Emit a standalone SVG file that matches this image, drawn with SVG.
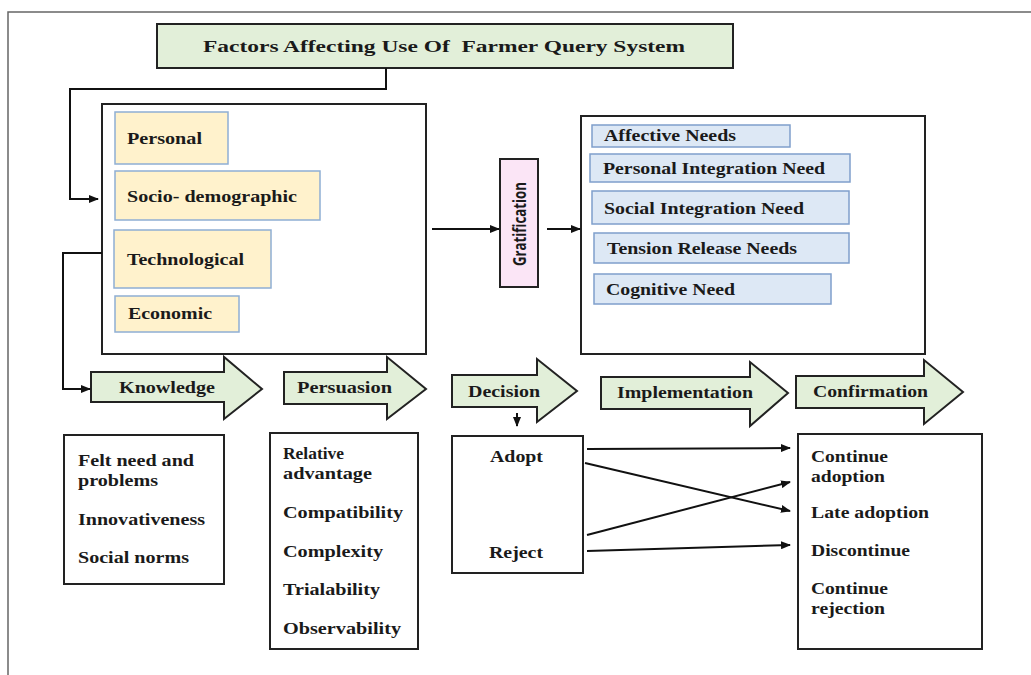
<svg xmlns="http://www.w3.org/2000/svg" width="1031" height="675" viewBox="0 0 1031 675">
<defs>
<marker id="ah" markerUnits="userSpaceOnUse" markerWidth="10" markerHeight="8" refX="9" refY="4" orient="auto">
<path d="M0,0 L10,4 L0,8 Z" fill="#111"/>
</marker>
<style>
.t{font-family:"Liberation Serif","Times New Roman",serif;font-weight:bold;font-size:16px;fill:#1a1a1a}
.tt{font-size:17px;white-space:pre}
.box{fill:#fff;stroke:#222;stroke-width:2}
.grn{fill:#e2efd9;stroke:#222;stroke-width:2}
.fac{fill:#fff2cc;stroke:#8faed4;stroke-width:1.5}
.need{fill:#dde8f5;stroke:#7f9fcb;stroke-width:1.5}
.con{fill:none;stroke:#111;stroke-width:2}
.g{font-family:"Open Sans","Liberation Sans",sans-serif;font-weight:bold;font-size:17px;fill:#1a1a1a}
</style>
</defs>
<rect width="1031" height="675" fill="#fff"/>
<path d="M8,675 V12 H1031" fill="none" stroke="#666" stroke-width="1.5"/>

<g id="title">
<rect class="grn" x="157" y="24" width="576" height="44"/>
<text class="t tt" x="203" y="52" textLength="482" lengthAdjust="spacingAndGlyphs">Factors Affecting Use Of  Farmer Query System</text>
</g>

<g id="factors">
<rect class="box" x="102" y="104" width="324" height="250"/>
<g id="personal"><rect class="fac" x="115" y="112" width="113" height="52"/><text class="t" x="127" y="143.5" textLength="75" lengthAdjust="spacingAndGlyphs">Personal</text></g>
<g id="socio"><rect class="fac" x="115" y="171" width="205" height="49"/><text class="t" x="127" y="201.5" textLength="170" lengthAdjust="spacingAndGlyphs">Socio- demographic</text></g>
<g id="tech"><rect class="fac" x="114" y="230" width="157" height="58"/><text class="t" x="127" y="265" textLength="117" lengthAdjust="spacingAndGlyphs">Technological</text></g>
<g id="econ"><rect class="fac" x="115" y="296" width="124" height="36"/><text class="t" x="128" y="319" textLength="84" lengthAdjust="spacingAndGlyphs">Economic</text></g>
</g>

<g id="gratification">
<rect x="500" y="159" width="38" height="128" fill="#fbe5f6" stroke="#222" stroke-width="2"/>
<text class="g" x="0" y="0" transform="translate(525.5,224) rotate(-90)" text-anchor="middle" textLength="84" lengthAdjust="spacingAndGlyphs">Gratification</text>
</g>

<g id="needs">
<rect class="box" x="581" y="116" width="344" height="238" stroke-width="3"/>
<g id="affective"><rect class="need" x="592" y="125" width="198" height="22"/><text class="t" x="604" y="141" textLength="132" lengthAdjust="spacingAndGlyphs">Affective Needs</text></g>
<g id="pin"><rect class="need" x="590" y="154" width="260" height="28"/><text class="t" x="603" y="173.5" textLength="222" lengthAdjust="spacingAndGlyphs">Personal Integration Need</text></g>
<g id="sin"><rect class="need" x="592" y="191" width="257" height="33"/><text class="t" x="604" y="213.5" textLength="200" lengthAdjust="spacingAndGlyphs">Social Integration Need</text></g>
<g id="tension"><rect class="need" x="594" y="233" width="255" height="30"/><text class="t" x="607" y="253.5" textLength="190" lengthAdjust="spacingAndGlyphs">Tension Release Needs</text></g>
<g id="cognitive"><rect class="need" x="594" y="274" width="237" height="30"/><text class="t" x="606" y="294.5" textLength="129" lengthAdjust="spacingAndGlyphs">Cognitive Need</text></g>
</g>

<g id="stage-knowledge">
<polygon class="grn" points="91,372 224,372 224,357 262,389 224,419 224,402 91,402"/>
<text class="t" x="119" y="393" textLength="96" lengthAdjust="spacingAndGlyphs">Knowledge</text>
</g>
<g id="stage-persuasion">
<polygon class="grn" points="284,372 387,372 387,357 426,389 387,419 387,404 284,404"/>
<text class="t" x="297" y="393" textLength="95" lengthAdjust="spacingAndGlyphs">Persuasion</text>
</g>
<g id="stage-decision">
<polygon class="grn" points="452,375 537,375 537,359 577,391 537,422 537,407 452,407"/>
<text class="t" x="468" y="397" textLength="72" lengthAdjust="spacingAndGlyphs">Decision</text>
</g>
<g id="stage-implementation">
<polygon class="grn" points="601,377 750,377 750,362 788,393 750,426 750,409 601,409"/>
<text class="t" x="617" y="398" textLength="136" lengthAdjust="spacingAndGlyphs">Implementation</text>
</g>
<g id="stage-confirmation">
<polygon class="grn" points="796,376 924,376 924,360 963,392 924,424 924,408 796,408"/>
<text class="t" x="813" y="397" textLength="115" lengthAdjust="spacingAndGlyphs">Confirmation</text>
</g>

<g id="box-knowledge">
<rect class="box" x="64" y="435" width="160" height="149"/>
<text class="t" x="78" y="466" textLength="116" lengthAdjust="spacingAndGlyphs">Felt need and</text>
<text class="t" x="78" y="486" textLength="80" lengthAdjust="spacingAndGlyphs">problems</text>
<text class="t" x="78" y="525" textLength="127" lengthAdjust="spacingAndGlyphs">Innovativeness</text>
<text class="t" x="78" y="563" textLength="111" lengthAdjust="spacingAndGlyphs">Social norms</text>
</g>

<g id="box-persuasion">
<rect class="box" x="270" y="433" width="148" height="216"/>
<text class="t" x="283" y="459" textLength="61" lengthAdjust="spacingAndGlyphs">Relative</text>
<text class="t" x="283" y="479" textLength="89" lengthAdjust="spacingAndGlyphs">advantage</text>
<text class="t" x="283" y="518" textLength="120" lengthAdjust="spacingAndGlyphs">Compatibility</text>
<text class="t" x="283" y="557" textLength="100" lengthAdjust="spacingAndGlyphs">Complexity</text>
<text class="t" x="283" y="595" textLength="97" lengthAdjust="spacingAndGlyphs">Trialability</text>
<text class="t" x="283" y="634" textLength="118" lengthAdjust="spacingAndGlyphs">Observability</text>
</g>

<g id="box-decision">
<rect class="box" x="452" y="436" width="131" height="137"/>
<text class="t" x="490" y="462" textLength="53" lengthAdjust="spacingAndGlyphs">Adopt</text>
<text class="t" x="489" y="558" textLength="54" lengthAdjust="spacingAndGlyphs">Reject</text>
</g>

<g id="box-confirmation">
<rect class="box" x="798" y="434" width="184" height="215"/>
<text class="t" x="811" y="462" textLength="77" lengthAdjust="spacingAndGlyphs">Continue</text>
<text class="t" x="811" y="482" textLength="74" lengthAdjust="spacingAndGlyphs">adoption</text>
<text class="t" x="811" y="518" textLength="118" lengthAdjust="spacingAndGlyphs">Late adoption</text>
<text class="t" x="811" y="556" textLength="99" lengthAdjust="spacingAndGlyphs">Discontinue</text>
<text class="t" x="811" y="594" textLength="77" lengthAdjust="spacingAndGlyphs">Continue</text>
<text class="t" x="811" y="614" textLength="74" lengthAdjust="spacingAndGlyphs">rejection</text>
</g>

<g id="connectors">
<path class="con" d="M386,68 V89 H70 V199 H98" marker-end="url(#ah)"/>
<path class="con" d="M102,253 H63 V389 H90" marker-end="url(#ah)"/>
<path class="con" d="M432,229 H499" marker-end="url(#ah)"/>
<path class="con" d="M547,229 H580" marker-end="url(#ah)"/>
<path class="con" d="M517,413 V426" marker-end="url(#ah)"/>
<path class="con" d="M587,449 L790,448" marker-end="url(#ah)"/>
<path class="con" d="M585,463 L790,511" marker-end="url(#ah)"/>
<path class="con" d="M587,535 L790,482" marker-end="url(#ah)"/>
<path class="con" d="M587,551 L790,545" marker-end="url(#ah)"/>
</g>
</svg>
